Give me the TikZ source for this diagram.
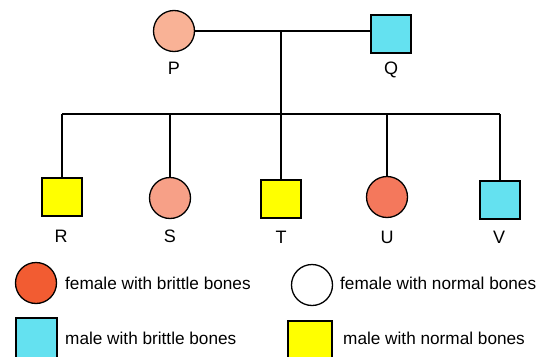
\documentclass[tikz,border=0pt]{standalone}
\usepackage{fontspec}
\setmainfont{Liberation Sans}
\definecolor{peach}{RGB}{249,178,150}
\definecolor{peachB}{RGB}{247,160,135}
\definecolor{salmon}{RGB}{244,120,92}
\definecolor{redorange}{RGB}{242,92,50}
\definecolor{cyanbox}{RGB}{100,225,240}
\definecolor{yelbox}{RGB}{255,255,0}
\begin{document}
\begin{tikzpicture}[x=1pt,y=-1pt,
  female/.style={circle,draw=black,line width=1.3pt,minimum size=41pt,inner sep=0pt},
  male/.style={rectangle,draw=black,line width=1.3pt,minimum width=40pt,minimum height=38pt,inner sep=0pt},
  lab/.style={font=\fontsize{18}{18}\selectfont,inner sep=0pt},
  legtxt/.style={font=\fontsize{17.2}{18}\selectfont,anchor=west,inner sep=0pt},
  link/.style={line width=1.1pt}]
\useasboundingbox (0,0) rectangle (554,356);
\clip (0,0) rectangle (554,356);
% parents
\node[female,fill=peach] (P) at (174,31) {};
\node[male,fill=cyanbox] (Q) at (391,34) {};
\node[lab] (Pl) at (174,68) {P};
\node[lab] (Ql) at (391,70) {Q};
% children
\node[male,fill=yelbox] (R) at (62,197) {};
\node[female,fill=peachB] (S) at (170,198) {};
\node[male,fill=yelbox] (T) at (281,199) {};
\node[female,fill=salmon] (U) at (387,197) {};
\node[male,fill=cyanbox] (V) at (500,200) {};
\node[lab] (Rl) at (61,236) {R};
\node[lab] (Sl) at (170,236) {S};
\node[lab] (Tl) at (281,237) {T};
\node[lab] (Ul) at (387,237) {U};
\node[lab] (Vl) at (499,237) {V};
% connectors
\coordinate (m) at (281,31);
\coordinate (h) at (281,114);
\coordinate (hR) at (62,114);
\coordinate (hS) at (170,114);
\coordinate (hU) at (387,114);
\coordinate (hV) at (500,114);
\draw[link] (P.east) -- (m) -- (m -| Q.west);
\draw[link] (m) -- (h);
\draw[link] (hR) -- (hV);
\draw[link] (hR) -- (R.north);
\draw[link] (hS) -- (S.north);
\draw[link] (h) -- (T.north);
\draw[link] (hU) -- (U.north);
\draw[link] (hV) -- (V.north);
% legend
\node[female,fill=redorange] (L1) at (36,283) {};
\node[legtxt] (L1t) at (65,283) {female with brittle bones};
\node[female,fill=white] (L2) at (312,285) {};
\node[legtxt] (L2t) at (340,283) {female with normal bones};
\node[male,fill=cyanbox,minimum width=41pt,minimum height=42pt] (L3) at (36.5,339) {};
\node[legtxt] (L3t) at (65,338) {male with brittle bones};
\node[male,fill=yelbox,minimum width=44pt,minimum height=42pt] (L4) at (310,342) {};
\node[legtxt] (L4t) at (343,338) {male with normal bones};
\end{tikzpicture}
\end{document}
